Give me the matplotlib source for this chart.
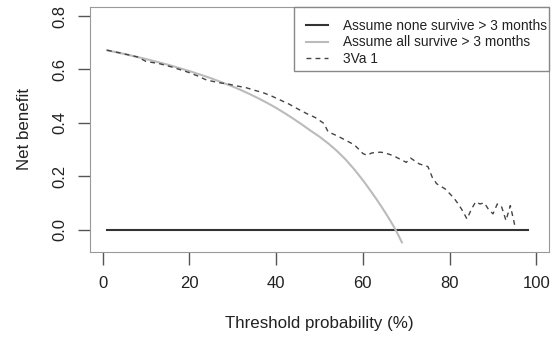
import matplotlib
matplotlib.use('Agg')
import matplotlib.pyplot as plt
from matplotlib.patches import Rectangle

plt.rcParams['font.family'] = ['Liberation Sans', 'DejaVu Sans']

# Threshold probabilities (%) and net benefit
none_x = [1, 98]
none_y = [0.0, 0.0]

all_x = [1, 5, 10, 15, 20, 25, 30, 32, 34, 36, 38, 40, 42, 44, 46, 48, 50, 52, 54, 56,
         58, 60, 61, 62, 63, 64, 65, 66, 67, 68, 69]
all_y = [0.672, 0.658, 0.639, 0.618, 0.594, 0.567, 0.536, 0.522, 0.507, 0.491, 0.474,
         0.456, 0.436, 0.415, 0.393, 0.370, 0.348, 0.323, 0.295, 0.263, 0.226, 0.185,
         0.163, 0.140, 0.117, 0.093, 0.068, 0.042, 0.015, -0.015, -0.048]

model_x = [1, 4, 8, 10, 13, 16, 20, 22, 24, 27, 29, 31, 33, 35, 37, 39, 41, 43, 45, 47,
           49, 51, 52, 54, 56, 58, 59, 60, 61, 62, 64, 65, 67, 70, 71, 73, 75, 76, 77, 79,
           81, 82, 83, 84, 85, 86, 87, 88, 89, 90, 91, 92, 93, 94, 95]
model_y = [0.672, 0.662, 0.647, 0.630, 0.622, 0.609, 0.588, 0.575, 0.560, 0.550, 0.545,
           0.538, 0.532, 0.522, 0.513, 0.500, 0.485, 0.470, 0.452, 0.435, 0.420, 0.398,
           0.366, 0.352, 0.335, 0.318, 0.302, 0.285, 0.278, 0.287, 0.290, 0.288, 0.277,
           0.252, 0.268, 0.246, 0.236, 0.196, 0.172, 0.152, 0.118, 0.096, 0.070, 0.040,
           0.075, 0.104, 0.096, 0.100, 0.075, 0.059, 0.096, 0.085, 0.034, 0.090, 0.018]

xticks = [0, 20, 40, 60, 80, 100]
yticks = [0.0, 0.2, 0.4, 0.6, 0.8]

fig = plt.figure(figsize=(5.53, 3.39), dpi=100)
ax = fig.add_axes([90 / 553, 1 - 252 / 339, 459 / 553, 245 / 339])

ax.plot(none_x, none_y, color='#333333', lw=1.5, label='Assume none survive > 3 months')
ax.plot(all_x, all_y, color='#bbbbbb', lw=1.5, label='Assume all survive > 3 months')
ax.plot(model_x, model_y, color='#444444', lw=1, ls=(0, (3.5, 3)), label='3Va 1')

# R style axes: 4% padding around data range
ax.set_xlim(1 - 0.04 * 98, 99 + 0.04 * 98)
ax.set_ylim(-0.05 - 0.04 * 0.85, 0.8 + 0.04 * 0.85)

ax.set_xticks(xticks)
ax.set_xticklabels([str(t) for t in xticks])
ax.set_yticks(yticks)
ax.set_yticklabels(['%.1f' % t for t in yticks])
ax.tick_params(axis='both', length=9, width=1, color='#555555', labelsize=12,
               labelcolor='#222222')
ax.tick_params(axis='x', pad=8)
ax.tick_params(axis='y', pad=7, labelrotation=90)
for lab in ax.get_yticklabels():
    lab.set_va('center')

for side in ['left', 'bottom', 'right', 'top']:
    ax.spines[side].set_color('#999999')

ax.set_xlabel('Threshold probability (%)', fontsize=12.2, color='#222222', labelpad=18)
ax.set_ylabel('Net benefit', fontsize=12.2, color='#222222', labelpad=15)

# legend box tucked into the top right corner, like R's legend("topright")
leg_left = (294 - 90) / 459
leg_bottom = (252 - 71) / 245
ax.add_patch(Rectangle((leg_left, leg_bottom), 1 - leg_left, 1 - leg_bottom,
                       transform=ax.transAxes, fill=True, facecolor='white',
                       edgecolor='#888888', lw=1, zorder=4, clip_on=False))
leg = ax.legend(loc='upper left', bbox_to_anchor=(leg_left, 1.0), fontsize=9.9,
                frameon=False, borderaxespad=0, handlelength=1.6, handletextpad=1.1,
                labelspacing=0.2, borderpad=0.85)
leg.set_zorder(5)
for t in leg.get_texts():
    t.set_color('#222222')

fig.savefig('out.png', dpi=100)
